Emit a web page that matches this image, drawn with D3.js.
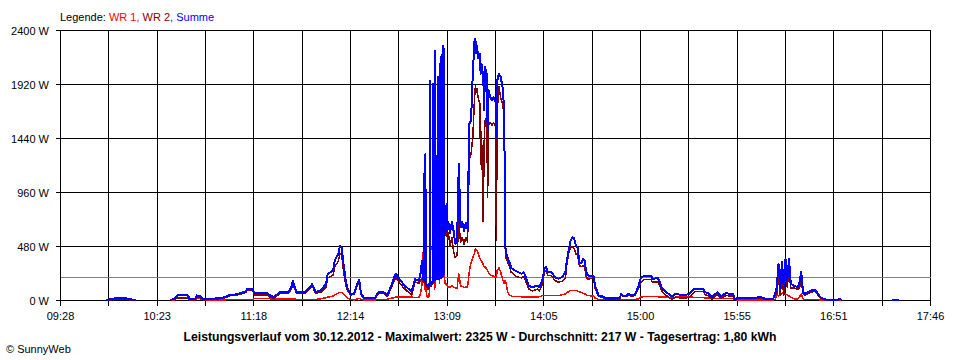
<!DOCTYPE html>
<html><head><meta charset="utf-8">
<script src="https://cdn.jsdelivr.net/npm/d3@7"></script>
<style>
body{margin:0;background:#fff}
svg{display:block}
text{font-family:"Liberation Sans",Arial,sans-serif}
</style>
</head><body>
<svg id="chart" width="960" height="360"></svg>
<script>
// ---- data (W) ----
const times = [
"09:54","09:57","10:00","10:02","10:05","10:08","10:11","10:20",
"10:31","10:33","10:35","10:41","10:42","10:45","10:46","10:48","10:50","10:54",
"11:00","11:02","11:05","11:09","11:11","11:14","11:15","11:18","11:19","11:26","11:28","11:30",
"11:34","11:38","11:40","11:41","11:43","11:48","11:51","11:52","11:54","11:57",
"12:00","12:01","12:04","12:05","12:07","12:08","12:09","12:10","12:11","12:12","12:14","12:16",
"12:18","12:19","12:20","12:22","12:28","12:30","12:33","12:35","12:37","12:39","12:40","12:42",
"12:44","12:47","12:49","12:51","12:53","12:54",
"12:55","12:55:30","12:55:52","12:56","12:56:08","12:56:46","12:56:54","12:57:02","12:57:10","12:57:30",
"12:58","12:58:30","12:59","12:59:28","12:59:36","12:59:44","13:00","13:00:20","13:00:58","13:01:06",
"13:01:14","13:01:40","13:02","13:02:28","13:02:36","13:02:44","13:03:20","13:04:04","13:04:12","13:04:20",
"13:04:40","13:04:58","13:05:06","13:05:14","13:05:58","13:06:06","13:06:14","13:06:40","13:06:48","13:06:56",
"13:07:28","13:07:36","13:07:44","13:08","13:08:30","13:09","13:09:30",
"13:10","13:11","13:12","13:13","13:14","13:15","13:16","13:17","13:18","13:19","13:20","13:21",
"13:22","13:23","13:24","13:25","13:25:30","13:26","13:26:30","13:27","13:28","13:28:30","13:29","13:30",
"13:30:30","13:31","13:32","13:32:30","13:33","13:34","13:35","13:36","13:37","13:37:30","13:38","13:39",
"13:40","13:41","13:42","13:42:30","13:43","13:44","13:45","13:46","13:47","13:48","13:50","13:52",
"13:53","13:54","13:56","13:58","14:01","14:02","14:03","14:04","14:05","14:06","14:07","14:09",
"14:11","14:13","14:15","14:17","14:18","14:19","14:20","14:21","14:22","14:23","14:24","14:25",
"14:26","14:27","14:28","14:29","14:30","14:33","14:34","14:35","14:36","14:38","14:40","14:48",
"14:49","14:50","14:52","14:53","14:55","14:57","14:59","15:00","15:02","15:06","15:07","15:10",
"15:11","15:12","15:14","15:16","15:18","15:20","15:23","15:26","15:28","15:30","15:31","15:36",
"15:37","15:39","15:41","15:44","15:46","15:49","15:51","15:53","15:54","15:56","16:03","16:09",
"16:11","16:16","16:17","16:18","16:19","16:20","16:21","16:22","16:23","16:24","16:25","16:26",
"16:28","16:30","16:31","16:32","16:33","16:34","16:35","16:37","16:39","16:40","16:41","16:43",
"16:45","16:53","16:54","16:55","17:00","17:24","17:28"
];
const summe = [
5,12,24,26,22,10,5,null,
5,15,45,45,10,12,45,40,10,15,
22,30,50,55,65,80,104,104,68,68,45,30,
80,75,110,172,75,74,120,148,74,89,
148,237,267,355,415,489,470,326,207,120,59,59,
150,184,60,21,21,74,74,45,118,207,237,190,
150,105,80,190,175,230,
355,200,190,1126,180,170,1304,160,150,140,
130,120,140,160,1956,160,150,150,170,1926,
170,180,190,180,2222,190,200,190,1985,200,
190,190,2104,200,200,2178,210,210,2267,220,
230,2237,500,740,740,860,620,
700,600,700,620,505,520,1215,650,700,620,690,640,
1570,1600,2015,2311,2325,2200,2267,2150,2190,2015,2104,1985,
1690,2074,2015,1511,1867,1807,1780,1807,1763,1452,1956,2015,
1985,1900,1700,504,430,380,340,290,280,267,252,237,
252,222,133,118,133,118,148,193,281,296,252,252,
207,193,207,252,370,460,533,563,554,489,474,340,
330,370,355,252,222,222,133,89,44,40,21,21,
59,44,44,59,44,59,133,193,222,222,193,198,
163,118,83,59,35,59,50,50,59,95,104,104,
74,65,30,74,40,65,59,59,15,21,21,30,
18,15,59,118,326,110,340,120,370,178,370,148,
130,118,160,252,80,59,65,83,95,95,74,30,
9,8,15,8,null,8,8
];
const wr1 = [
2,6,14,16,12,5,2,null,
2,5,22,22,5,5,18,15,5,5,
5,6,8,8,8,10,10,10,20,20,15,12,
15,15,15,15,10,8,10,10,10,15,
25,30,40,50,65,74,70,60,40,25,10,5,
15,20,10,5,5,10,10,10,20,25,30,30,
30,30,30,25,25,55,
150,420,450,460,440,100,80,300,420,60,
30,30,40,200,430,440,470,460,450,450,
450,440,100,120,410,410,410,410,410,405,
400,150,410,410,400,400,405,410,410,410,
405,400,300,160,140,150,120,
120,120,130,120,110,110,237,130,125,115,120,120,
260,340,380,420,460,450,440,420,380,360,350,320,
300,300,280,260,250,225,222,215,207,210,267,290,
250,190,150,180,160,74,50,40,35,35,35,33,
33,33,33,33,33,33,35,44,44,44,44,44,
44,44,50,59,70,80,89,89,89,89,85,74,
74,65,60,50,44,40,21,15,9,9,9,9,
9,9,9,9,9,9,15,30,35,35,35,35,
30,30,30,30,25,30,30,30,30,30,25,25,
22,22,20,20,20,20,20,20,8,5,5,5,
5,5,10,50,40,55,60,74,60,50,40,30,
15,15,30,59,15,10,10,10,10,10,10,5,
3,3,3,3,null,2,2
];
const wr2 = [
3,6,10,10,10,5,3,null,
3,10,22,22,5,7,25,25,5,10,
17,24,42,47,57,70,94,94,48,48,30,18,
65,60,95,150,65,66,110,135,64,74,
120,200,225,300,350,415,400,265,165,95,49,54,
135,165,50,16,16,64,64,35,98,180,205,160,
120,75,50,165,150,175,
200,170,160,460,160,150,460,140,130,120,
110,100,110,130,600,140,130,130,150,500,
150,160,180,1130,1420,1300,1130,1400,1550,1500,
1600,1550,1600,1420,1500,1600,1700,1840,1800,1650,
1600,1700,1500,580,600,640,540,
600,480,560,440,380,400,700,520,560,500,560,520,
1250,1300,1450,1800,1911,1850,1880,1807,1750,1215,1500,700,
1400,1600,1630,918,1560,1580,1560,1580,1550,533,1700,1900,
1800,1750,1640,474,380,340,300,250,240,222,207,200,
215,185,104,85,100,85,113,150,252,267,222,222,
178,163,170,200,340,430,474,474,460,415,400,311,
300,311,300,207,190,200,110,70,35,30,12,12,
48,35,35,48,35,48,110,160,185,185,163,163,
130,90,55,30,10,30,22,22,30,65,78,78,
52,43,12,52,20,45,39,39,7,16,16,20,
12,10,45,60,200,50,230,45,260,120,270,110,
110,100,110,180,60,48,52,70,80,80,60,22,
6,5,10,5,null,5,5
];
const yTicks = [0, 480, 960, 1440, 1920, 2400];
const xTickLabels = ["09:28","10:23","11:18","12:14","13:09","14:05","15:00","15:55","16:51","17:46"];
const averageLineW = 208;
const legendLabel = "Legende: ";
const seriesNames = ["WR 1", "WR 2", "Summe"];
const seriesColors = ["#ff0000", "#800000", "#0000ff"];
const titleText = "Leistungsverlauf vom 30.12.2012 - Maximalwert: 2325 W - Durchschnitt: 217 W - Tagesertrag: 1,80 kWh";
const copyright = "\u00a9 SunnyWeb";

// ---- drawing ----
const toMin = s => { const p = s.split(":").map(Number); return p[0]*60 + p[1] + (p[2] || 0)/60; };
const svg = d3.select("#chart");
svg.append("rect").attr("width", 960).attr("height", 360).attr("fill", "#fff");

const x0 = toMin(xTickLabels[0]), x1 = toMin(xTickLabels[xTickLabels.length - 1]);
const x = d3.scaleLinear().domain([x0, x1]).range([60.5, 930.5]);
const y = d3.scaleLinear().domain([0, 2400]).range([300.5, 30.5]);

const nGrid = (xTickLabels.length - 1) * 2;
const gridVals = d3.range(nGrid + 1).map(i => x0 + i * (x1 - x0) / nGrid);

const grid = svg.append("g").attr("shape-rendering", "crispEdges");
grid.selectAll("line.v").data(gridVals).join("line")
  .attr("x1", d => x(d)).attr("x2", d => x(d))
  .attr("y1", y(2400)).attr("y2", y(0) + 5)
  .attr("stroke", "#000");
grid.selectAll("line.h").data(yTicks).join("line")
  .attr("x1", x(x0) - 5).attr("x2", x(x1))
  .attr("y1", d => y(d)).attr("y2", d => y(d))
  .attr("stroke", "#000");
grid.append("line")
  .attr("x1", x(x0)).attr("x2", x(x1))
  .attr("y1", Math.round(y(averageLineW)) + 0.5).attr("y2", Math.round(y(averageLineW)) + 0.5)
  .attr("stroke", "#808080");

// y labels
svg.selectAll("text.yl").data(yTicks).join("text")
  .attr("x", 49).attr("y", d => y(d) + 4)
  .attr("text-anchor", "end").attr("font-size", 11)
  .text(d => d + " W");

// x labels
svg.selectAll("text.xl").data(xTickLabels).join("text")
  .attr("x", (d, i) => x(gridVals[i * 2])).attr("y", 320)
  .attr("text-anchor", "middle").attr("font-size", 11)
  .text(d => d);

// series
const tm = times.map(toMin);
const seriesData = [wr1, wr2, summe];
const widths = [1.5, 1.5, 2];
seriesData.forEach((vals, k) => {
  const pts = tm.map((t, i) => ({t, v: vals[i]}));
  const line = d3.line().defined(d => d.v !== null && d.v !== undefined).x(d => x(d.t)).y(d => y(d.v));
  svg.append("path").attr("d", line(pts))
    .attr("fill", "none").attr("stroke", seriesColors[k])
    .attr("stroke-width", widths[k]).attr("stroke-linejoin", "round")
    .attr("shape-rendering", "crispEdges");
});

// legend
const leg = svg.append("text").attr("x", 60).attr("y", 21).attr("font-size", 11);
leg.append("tspan").attr("fill", "#000").text(legendLabel);
seriesNames.forEach((n, i) => {
  leg.append("tspan").attr("fill", seriesColors[i]).text(n + (i < seriesNames.length - 1 ? ", " : ""));
});

// title
svg.append("text").attr("x", 480).attr("y", 341).attr("text-anchor", "middle")
  .attr("font-size", 12).attr("font-weight", "bold")
  .attr("textLength", 593).attr("lengthAdjust", "spacingAndGlyphs")
  .text(titleText);

svg.append("text").attr("x", 6).attr("y", 353).attr("font-size", 11).text(copyright);
</script>
</body></html>
